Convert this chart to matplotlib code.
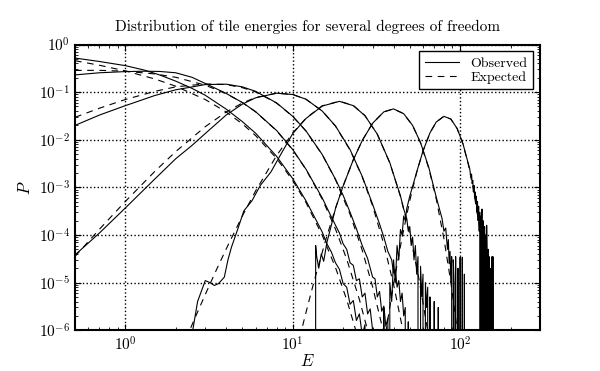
import matplotlib
matplotlib.use('Agg')
import matplotlib.pyplot as plt

# fontes parecidas com LaTeX
plt.rcParams['font.family'] = 'serif'
plt.rcParams['font.serif'] = ['cmr10']
plt.rcParams['mathtext.fontset'] = 'cm'
plt.rcParams['axes.unicode_minus'] = False
plt.rcParams['axes.formatter.use_mathtext'] = True

#%%
# curvas esperadas (tracejadas)
E_exp_1 = [0.5, 0.7, 1, 1.5, 2, 3, 4, 5, 6, 8, 10, 12, 15, 18, 21, 25]
P_exp_1 = [0.457, 0.367, 0.279, 0.189, 0.133, 0.0699, 0.0383, 0.0215, 0.0122,
           0.00407, 0.00139, 4.78e-4, 9.86e-5, 2.07e-5, 4.37e-6, 5.56e-7]

E_exp_2 = [0.5, 0.7, 1, 1.5, 2, 3, 4, 5, 6, 8, 10, 12, 15, 18, 21, 25, 29]
P_exp_2 = [0.286, 0.287, 0.275, 0.241, 0.205, 0.140, 0.0928, 0.0602, 0.0386,
           0.0155, 0.00609, 0.00237, 5.64e-4, 1.33e-4, 3.11e-5, 4.43e-6, 6.27e-7]

E_exp_3 = [0.5, 0.7, 1, 1.5, 2, 3, 4, 5, 6, 8, 10, 12, 15, 18, 22, 26, 30, 35]
P_exp_3 = [0.0296, 0.0460, 0.0700, 0.104, 0.129, 0.149, 0.144, 0.124, 0.101,
           0.0589, 0.0309, 0.0152, 0.00486, 0.00145, 2.71e-4, 4.79e-5, 8.15e-6, 8.57e-7]

E_exp_4 = [0.5, 0.7, 1, 1.5, 2, 3, 4, 5, 6, 8, 10, 12, 15, 18, 22, 26, 30, 35, 40, 46]
P_exp_4 = [3.54e-5, 1.32e-4, 5.07e-4, 2.17e-3, 5.65e-3, 0.0188, 0.0382, 0.0591,
           0.0772, 0.0949, 0.0892, 0.0706, 0.0402, 0.0193, 0.00606, 0.00166,
           4.08e-4, 6.40e-5, 9.18e-6, 8.26e-7]

E_exp_5 = [2.3, 2.6, 3, 3.5, 4, 5, 6, 8, 10, 12, 15, 19, 23, 27, 32, 38, 44, 50, 57, 65]
P_exp_5 = [6.53e-7, 1.78e-6, 5.6e-6, 1.86e-5, 5.07e-5, 2.51e-4, 8.44e-4, 4.64e-3,
           0.0139, 0.0284, 0.0516, 0.0644, 0.0526, 0.0321, 0.0130, 3.26e-3,
           6.43e-4, 1.07e-4, 1.10e-5, 6.94e-7]

E_exp_6 = [11, 12, 13, 14, 16, 18, 20, 23, 26, 30, 35, 40, 46, 52, 58, 65, 72, 80, 88, 97]
P_exp_6 = [6.98e-7, 2.37e-6, 7.02e-6, 1.85e-5, 9.56e-5, 3.63e-4, 1.07e-3, 3.81e-3,
           9.63e-3, 0.0222, 0.0385, 0.0445, 0.0352, 0.0199, 8.59e-3, 2.48e-3,
           5.68e-4, 8.37e-5, 1.01e-5, 7.74e-7]

E_exp_7 = [35, 38, 41, 45, 50, 55, 60, 66, 72, 80, 88, 96, 104, 112, 120, 130, 140, 150, 158]
P_exp_7 = [4.87e-7, 3.07e-6, 1.50e-5, 8.88e-5, 5.24e-4, 2.06e-3, 5.79e-3, 0.0139,
           0.0236, 0.0311, 0.0272, 0.0171, 8.08e-3, 3.00e-3, 9.04e-4, 1.57e-4,
           2.14e-5, 2.37e-6, 3.6e-7]

#%%
# curvas observadas (linha cheia), lidas do grafico
E_obs_1 = [0.5, 0.7, 1, 1.3, 1.6, 2, 2.5, 3, 4, 5, 6, 8, 10, 12, 14, 15, 16, 17,
           18, 19, 20, 21, 22, 23, 24, 25, 26, 27, 28]
P_obs_1 = [0.52, 0.44, 0.36, 0.29, 0.23, 0.17, 0.12, 0.086, 0.044, 0.024, 0.0137,
           0.0045, 0.00152, 5.2e-4, 1.85e-4, 1.15e-4, 6.5e-5, 4.4e-5, 2.6e-5,
           1.9e-5, 9.5e-6, 8e-6, 3.5e-6, 4.2e-6, 1.6e-6, 2.2e-6, 8e-7, 1.3e-6, 0]

E_obs_2 = [0.5, 0.7, 1, 1.3, 1.6, 2, 2.5, 3, 4, 5, 6, 8, 10, 12, 15, 17, 18, 19,
           20, 21, 22, 23, 24, 25, 26, 27, 28, 29, 30, 31]
P_obs_2 = [0.23, 0.255, 0.27, 0.275, 0.272, 0.255, 0.205, 0.152, 0.094, 0.0605,
           0.0388, 0.0157, 0.0062, 0.0024, 6.0e-4, 2.4e-4, 1.6e-4, 1.1e-4, 6.5e-5,
           5e-5, 2.6e-5, 2.3e-5, 1.1e-5, 1.2e-5, 5e-6, 6e-6, 2.2e-6, 2.8e-6, 1e-6, 0]

E_obs_3 = [0.5, 0.7, 1, 1.5, 2, 3, 4, 5, 6, 8, 10, 12, 15, 18, 20, 22, 24, 26,
           28, 30, 31, 32, 33, 34, 35, 36, 37, 38]
P_obs_3 = [0.020, 0.033, 0.052, 0.085, 0.112, 0.144, 0.147, 0.129, 0.104, 0.0595,
           0.031, 0.0153, 0.0049, 0.00148, 6.8e-4, 3.0e-4, 1.35e-4, 6.0e-5, 3.2e-5,
           1.3e-5, 1.2e-5, 5e-6, 6.5e-6, 2.5e-6, 3.2e-6, 1.2e-6, 1.8e-6, 0]

E_obs_4 = [0.5, 0.7, 1, 1.5, 2, 2.5, 3, 4, 5, 6, 8, 10, 12, 15, 18, 22, 26, 30,
           33, 35, 37, 39, 40, 41, 42, 43, 44, 45, 46, 47, 48, 49, 50]
P_obs_4 = [3.8e-5, 1.1e-4, 3.7e-4, 1.5e-3, 4.0e-3, 7.6e-3, 0.0135, 0.033, 0.056,
           0.076, 0.095, 0.089, 0.071, 0.040, 0.0195, 0.0062, 0.0017, 4.4e-4,
           1.7e-4, 9e-5, 4.5e-5, 3e-5, 1.6e-5, 1.9e-5, 8e-6, 1.1e-5, 4e-6, 6e-6,
           2e-6, 3e-6, 0, 1.5e-6, 0]

E_obs_5 = [2.5, 2.7, 3.0, 3.2, 3.4, 3.6, 3.9, 4.1, 4.3, 4.7, 5.1, 5.7, 6.4, 7.4,
           8.5, 10, 12, 15, 19, 23, 27, 32, 38, 44, 46, 48, 49, 50, 51, 52, 53,
           54, 55, 56, 57, 58, 59, 60, 61, 62, 63, 64, 65, 66, 68, 70, 71, 74, 75]
P_obs_5 = [8e-7, 4e-6, 1.1e-5, 1.0e-5, 8.7e-6, 9.5e-6, 1.3e-5, 3e-5, 5.5e-5,
           1.35e-4, 3.2e-4, 5.2e-4, 1.1e-3, 2.1e-3, 5.0e-3, 0.0135, 0.028, 0.051,
           0.064, 0.052, 0.032, 0.0131, 0.0033, 6.6e-4, 3.5e-4, 2.2e-4, 1.2e-4,
           1.5e-4, 6e-5, 9e-5, 3e-5, 6e-5, 1.5e-5, 3.5e-5, 0, 2.2e-5, 5e-6,
           1.5e-5, 0, 1e-5, 3e-6, 8e-6, 0, 5e-6, 0, 4e-6, 0, 3e-6, 0]

E_obs_6 = [13.55, 13.7, 13.9, 14.3, 14.8, 15.3, 16, 17, 18, 20, 23, 26, 30, 35,
           40, 46, 52, 58, 65, 72, 78, 80, 82, 84, 85, 86, 87, 88, 89, 90, 91,
           92, 93, 94, 96, 97, 98, 100, 101, 103, 104, 106, 107, 110]
P_obs_6 = [0, 6e-5, 3.5e-5, 2e-5, 4e-5, 2.8e-5, 7e-5, 1.6e-4, 3.6e-4, 1.07e-3,
           3.8e-3, 9.6e-3, 0.0222, 0.0385, 0.0445, 0.0352, 0.020, 0.0087, 0.0026,
           6.2e-4, 2.2e-4, 1.2e-4, 1.4e-4, 5e-5, 8e-5, 2.5e-5, 4.5e-5, 1e-5,
           3.5e-5, 0, 3e-5, 1e-5, 0, 3.5e-5, 0, 2e-5, 0, 3.4e-5, 0, 3.4e-5, 0,
           1.5e-5, 0, 0]

E_obs_7 = [33, 35, 37, 38, 39, 40, 41, 42, 43, 44, 45, 46, 47, 48, 50, 55, 60,
           66, 72, 80, 88, 96, 104, 112, 114, 116, 117, 118, 119, 120, 121, 122,
           123, 124, 125, 126, 127, 128, 129, 130, 131, 132, 133, 134, 135, 136,
           137, 138, 139, 140, 141, 142, 143, 144, 145, 146, 147, 148, 149, 150,
           151, 152, 153, 154, 155, 156, 157, 158, 160]
P_obs_7 = [0, 3e-6, 0, 1e-5, 4e-6, 3e-5, 1e-5, 6e-5, 3e-5, 1.3e-4, 1e-4, 2.5e-4,
           2e-4, 3.6e-4, 6.5e-4, 2.1e-3, 5.8e-3, 0.0139, 0.0236, 0.031, 0.0272,
           0.0172, 8.2e-3, 3.1e-3, 2.5e-3, 1.6e-3, 1.9e-3, 1.2e-3, 1.4e-3, 8e-4,
           1.1e-3, 6e-4, 8e-4, 4.5e-4, 6.5e-4, 3e-4, 5e-4, 2e-4, 4e-4, 1.2e-4,
           3e-4, 0, 2.5e-4, 8e-5, 3.5e-4, 0, 2e-4, 6e-5, 0, 1.5e-4, 0, 1e-4, 0,
           1.6e-4, 2e-5, 0, 5e-5, 0, 3.5e-5, 0, 2e-5, 0, 1.2e-5, 0, 3.5e-5, 0,
           3.5e-5, 0, 0]

observados = [(E_obs_1, P_obs_1), (E_obs_2, P_obs_2), (E_obs_3, P_obs_3),
              (E_obs_4, P_obs_4), (E_obs_5, P_obs_5), (E_obs_6, P_obs_6),
              (E_obs_7, P_obs_7)]
esperados = [(E_exp_1, P_exp_1), (E_exp_2, P_exp_2), (E_exp_3, P_exp_3),
             (E_exp_4, P_exp_4), (E_exp_5, P_exp_5), (E_exp_6, P_exp_6),
             (E_exp_7, P_exp_7)]

#%%
# plot
fig, ax = plt.subplots(figsize=(6, 3.71), dpi=100)

for i, (E, P) in enumerate(observados):
    ax.plot(E, P, '-', color='k', lw=0.8, label='Observed' if i == 0 else None)
for i, (E, P) in enumerate(esperados):
    ax.plot(E, P, '--', color='k', lw=0.8, dashes=(6, 5),
            label='Expected' if i == 0 else None)

ax.set_xscale('log')
ax.set_yscale('log')
ax.set_xlim(0.5, 300)
ax.set_ylim(1e-6, 1)

ax.grid(True, which='major', color='k', linestyle=':', linewidth=1)
ax.tick_params(which='both', direction='in', top=True, right=True, labelsize=11)
ax.tick_params(which='major', length=4)
ax.tick_params(which='minor', length=2)
for s in ax.spines.values():
    s.set_linewidth(1.5)

ax.set_title('Distribution of tile energies for several degrees of freedom',
             fontsize=11, pad=10)
ax.set_xlabel('$E$', fontsize=12, labelpad=0)
ax.set_ylabel('$P$', fontsize=12)

leg = ax.legend(loc='upper right', fontsize=10, fancybox=False, framealpha=1,
                handlelength=2.5, borderaxespad=0.5, labelspacing=0.1)
leg.get_frame().set_edgecolor('k')

fig.savefig('out.png', dpi=100)
